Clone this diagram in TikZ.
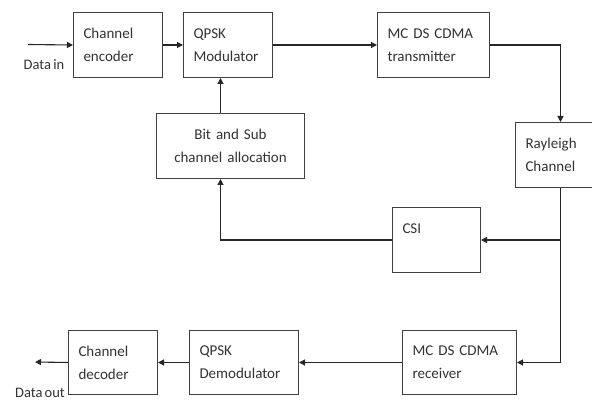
\documentclass[tikz,border=0pt]{standalone}
\usepackage{fontspec}
\setmainfont{Carlito}
\usetikzlibrary{arrows.meta,calc}
\newcommand\mytightsp{\spaceskip 2.2pt plus 1pt\relax}
\begin{document}
\begin{tikzpicture}[x=1pt,y=-1pt,
  blk/.style={draw=black!75, line width=1pt, anchor=north west, minimum height=65pt,
    inner xsep=10pt, inner ysep=0pt, align=left, text=black!80,
    font={\fontsize{15}{23}\selectfont\mytightsp}},
  conn/.style={draw=black!85, line width=1.1pt, -{Triangle[length=6pt,width=6pt]}},
  lbl/.style={text=black!80, font={\fontsize{14.5}{17}\selectfont\mytightsp}, inner sep=0pt}]
\useasboundingbox[fill=white] (0,0) rectangle (592,401);
\node[blk, text width=69pt] (enc) at (73,12) {Channel\\encoder};
\node[blk, text width=69pt] (mod) at (183,12) {QPSK\\Modulator};
\node[blk, text width=92pt] (tx) at (377,12) {MC DS CDMA\\transmitter};
\node[blk, text width=128pt, align=center, minimum height=65pt] (bit) at (156,113) {Bit and Sub\\channel allocation};
\node[blk, text width=70pt] (ray) at (515,122) {Rayleigh\\Channel};
\node[blk, text width=68pt] (csi) at (392,207) {CSI\\\mbox{}};
\node[blk, text width=94pt, minimum height=64pt] (rx) at (402,330) {MC DS CDMA\\receiver};
\node[blk, text width=89pt, minimum height=64pt] (demod) at (189,330) {QPSK\\Demodulator};
\node[blk, text width=69pt, minimum height=64pt] (dec) at (68,330) {Channel\\decoder};
\coordinate (din) at (28,44.5);
\coordinate (dout) at (35,362);
\node[lbl] (lin) at (44,65) {Data in};
\node[lbl] (lout) at (40,393) {Data out};
\draw[conn] (din) -- (enc.west);
\draw[conn] (enc.east) -- (mod.west);
\draw[conn] (mod.east) -- (tx.east -| tx.west);
\draw[conn] (tx.east) -| (ray.north);
\draw[conn] (ray.south) |- (rx.east);
\draw[conn] (ray.south |- csi.east) -- (csi.east);
\draw[conn] (csi.west) -| ([xshift=-10pt]bit.south);
\draw[conn] ([xshift=-10pt]bit.north) -- ([xshift=-10pt]bit.north |- mod.south);
\draw[conn] (rx.west) -- (demod.east);
\draw[conn] (demod.west) -- (dec.east);
\draw[conn] (dec.west) -- (dout);
\end{tikzpicture}
\end{document}
